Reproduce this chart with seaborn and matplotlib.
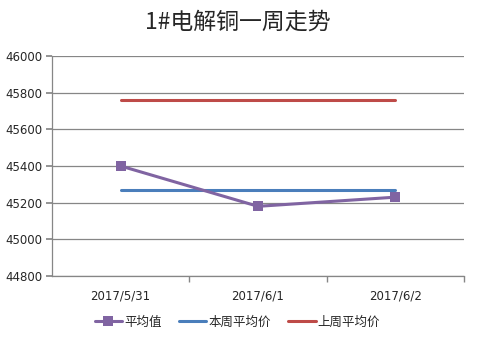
import matplotlib
matplotlib.use("Agg")
import matplotlib.pyplot as plt
import seaborn as sns
import pandas as pd
import numpy as np

dates = ["2017/5/31", "2017/6/1", "2017/6/2"]
avg_vals = [45400, 45180, 45230]
this_week = [45270, 45270, 45270]
last_week = [45760, 45760, 45760]
yticks = [44800, 45000, 45200, 45400, 45600, 45800, 46000]

sns.set_theme(style="white")
plt.rcParams['font.family'] = ['Noto Sans CJK SC', 'DejaVu Sans']

fig = plt.figure(figsize=(4.78, 3.41), dpi=100)
ax = fig.add_axes([52/478, 1-276/341, (464-52)/478, (276-56)/341])

x = np.arange(len(dates))
df = pd.DataFrame({"x": x, "平均值": avg_vals, "本周平均价": this_week, "上周平均价": last_week})

sns.lineplot(data=df, x="x", y="平均值", ax=ax, color="#8064A2", lw=2.2,
             marker="s", markersize=7, markeredgewidth=0, label="平均值", zorder=5)
sns.lineplot(data=df, x="x", y="本周平均价", ax=ax, color="#4A7EBB", lw=2.2, label="本周平均价", zorder=4)
sns.lineplot(data=df, x="x", y="上周平均价", ax=ax, color="#BE4B48", lw=2.2, label="上周平均价", zorder=4)

ax.set_xlim(-0.5, 2.5)
ax.set_ylim(44800, 46000)
ax.set_yticks(yticks)
ax.set_yticklabels([str(v) for v in yticks], fontsize=8.5, family=['DejaVu Sans'])
ax.set_xticks(x)
ax.set_xticklabels(dates, fontsize=8.5, family=['DejaVu Sans'])
ax.set_xticks([0.5, 1.5, 2.5], minor=True)
ax.tick_params(axis='x', which='major', length=0, pad=10)
ax.tick_params(axis='x', which='minor', length=4, color="#868686", direction='out', bottom=True)
ax.tick_params(axis='y', length=4, color="#868686", direction='out', left=True, pad=3)
ax.set_xlabel("")
ax.set_ylabel("")
ax.grid(axis='y', color="#868686", lw=0.9)
ax.grid(axis='x', visible=False)
for s in ["top", "right"]:
    ax.spines[s].set_visible(False)
for s in ["left", "bottom"]:
    ax.spines[s].set_color("#868686")
    ax.spines[s].set_linewidth(0.9)

ax.legend(loc="upper center", bbox_to_anchor=(0.45, -0.13), ncol=3, frameon=False,
          fontsize=9, handlelength=2.2, handletextpad=0.15, columnspacing=1.4)

fig.text(238/478, 1-22/341, "1#电解铜一周走势", ha="center", va="center", fontsize=16.5)

fig.savefig("out.png", dpi=100)
